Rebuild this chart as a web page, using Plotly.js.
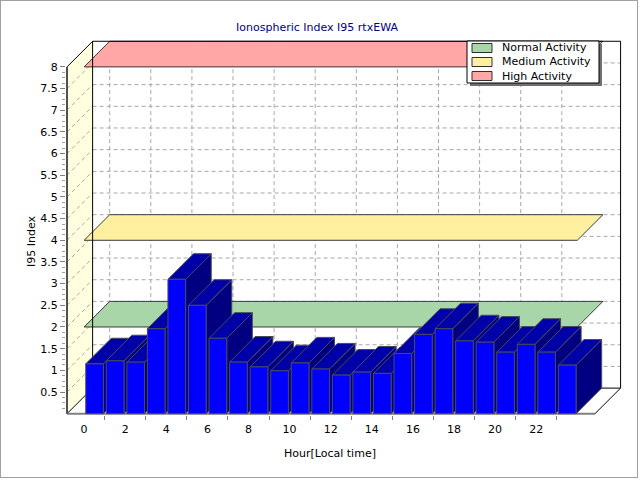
<!DOCTYPE html>
<html>
<head>
<meta charset="utf-8">
<script src="https://cdn.plot.ly/plotly-3.0.1.min.js"></script>
<style>
body { margin: 0; background: #fff; }
#plot { position: absolute; left: 0; top: 0; width: 640px; height: 480px; }
#frame { position: absolute; left: 0; top: 0; width: 636px; height: 476px; border: 1px solid #a0a0a0; pointer-events: none; }
</style>
</head>
<body>
<div id="plot"></div>
<div id="frame"></div>
<script>
// values
const hours = [0, 1, 2, 3, 4, 5, 6, 7, 8, 9, 10, 11, 12, 13, 14, 15, 16, 17, 18, 19, 20, 21, 22, 23];
const i95 = [1.15, 1.22, 1.19, 1.96, 3.10, 2.50, 1.74, 1.19, 1.08, 0.99, 1.17, 1.03,
             0.89, 0.96, 0.93, 1.39, 1.83, 1.96, 1.68, 1.65, 1.42, 1.60, 1.42, 1.12];
const xTickVals = [0, 2, 4, 6, 8, 10, 12, 14, 16, 18, 20, 22];
const yTickVals = [0.5, 1, 1.5, 2, 2.5, 3, 3.5, 4, 4.5, 5, 5.5, 6, 6.5, 7, 7.5, 8];

// activity levels (bands + legend)
const levelNames = ['Normal Activity', 'Medium Activity', 'High Activity'];
const levelValues = [2, 4, 8];
const levelColors = ['#a9d6a9', '#fff0a0', '#ffa6a6'];

const FONT = 'DejaVu Sans, Verdana, sans-serif';
const W = 640, H = 480;
const M = {l: 66, r: 18, t: 40, b: 65};
const plotW = W - M.l - M.r;
const plotH = H - M.t - M.b;
const xRange = [-0.881, 26.175];
const yRange = [-0.03, 8.62];
// depth of the fake 3d box, in axis units
const dx = 1.246, dy = 0.5905;
const xL = -0.832, xR = 24.86, yTop = 8;
const barL = 0.08, barR = 0.94;

const px2x = p => (p - M.l) / plotW;
const py2y = p => (M.t + plotH - p) / plotH;

function poly(xs, ys, fill, lineColor, lineWidth) {
    return {
        type: 'scatter', mode: 'lines',
        x: xs.concat([xs[0]]), y: ys.concat([ys[0]]),
        fill: 'toself', fillcolor: fill,
        line: {color: lineColor, width: lineWidth},
        hoverinfo: 'skip', showlegend: false
    };
}

const data = [];

// horizontal activity bands
levelValues.forEach((v, i) => {
    const t = poly([0, 24, 24 + dx, dx], [v, v, v + dy, v + dy], levelColors[i], '#3a3a3a', 1);
    t.name = levelNames[i];
    data.push(t);
});

// back wall left + top edge (over the bands, under the bars)
data.push({
    type: 'scatter', mode: 'lines',
    x: [xL + dx, xL + dx, xR + dx], y: [dy, yTop + dy, yTop + dy],
    line: {color: '#000', width: 1}, hoverinfo: 'skip', showlegend: false
});

// bars, drawn left to right so each one hides the previous side face
hours.forEach((h, i) => {
    const v = i95[i];
    const x0 = h + barL, x1 = h + barR;
    data.push(poly([x1, x1 + dx, x1 + dx, x1], [0, dy, v + dy, v], '#000080', '#4a4a5a', 1));
    data.push(poly([x0, x1, x1 + dx, x0 + dx], [v, v, v + dy, v + dy], '#0000a8', '#4a4a5a', 1));
    data.push(poly([x0, x1, x1, x0], [0, 0, v, v], '#0000ff', '#4a4a5a', 1));
});

const shapes = [];
const grid = {color: '#a8a8a8', width: 1, dash: '4px,3px'};

// left wall and floor
shapes.push({type: 'path', layer: 'below', xref: 'x', yref: 'y',
    path: `M${xL},0 L${xL + dx},${dy} L${xL + dx},${yTop + dy} L${xL},${yTop} Z`,
    fillcolor: '#ffffe0', line: {width: 0}});
shapes.push({type: 'path', layer: 'below', xref: 'x', yref: 'y',
    path: `M${xL},0 L${xR},0 L${xR + dx},${dy} L${xL + dx},${dy} Z`,
    fillcolor: '#ffffff', line: {width: 0}});

// back wall and left wall grid
yTickVals.filter(v => v < yTop).forEach(v => {
    shapes.push({type: 'line', layer: 'below', xref: 'x', yref: 'y',
        x0: xL + dx, x1: xR + dx, y0: v + dy, y1: v + dy, line: grid});
    shapes.push({type: 'line', layer: 'below', xref: 'x', yref: 'y',
        x0: xL, x1: xL + dx, y0: v, y1: v + dy, line: grid});
});
xTickVals.forEach(h => {
    shapes.push({type: 'line', layer: 'below', xref: 'x', yref: 'y',
        x0: h + dx, x1: h + dx, y0: dy, y1: yTop + dy, line: grid});
});

// box edges
const edge = (x0, y0, x1, y1, color, width) => shapes.push({type: 'line', layer: 'below',
    xref: 'x', yref: 'y', x0, y0, x1, y1, line: {color, width}});
edge(xL + dx, dy, xR + dx, dy, '#000', 1);
edge(xR + dx, dy, xR + dx, yTop + dy, '#000', 1);
edge(xL, yTop, xL + dx, yTop + dy, '#000', 1);
edge(xL, 0, xL + dx, dy, '#000', 1);
edge(xR, 0, xR + dx, dy, '#000', 1);
edge(xL, 0, xR, 0, '#808080', 2);
edge(xL, 0, xL, yTop, '#505050', 2);

// legend box
const annotations = [];
const lgX0 = 467, lgX1 = 599, lgY0 = 41, lgY1 = 83;
shapes.push({type: 'rect', layer: 'above', xref: 'paper', yref: 'paper',
    x0: px2x(lgX0 + 3), x1: px2x(lgX1 + 3), y0: py2y(lgY1 + 3), y1: py2y(lgY0 + 3),
    fillcolor: '#707070', line: {width: 0}});
shapes.push({type: 'rect', layer: 'above', xref: 'paper', yref: 'paper',
    x0: px2x(lgX0), x1: px2x(lgX1), y0: py2y(lgY1), y1: py2y(lgY0),
    fillcolor: '#ffffff', line: {color: '#000', width: 1}});
levelNames.forEach((name, i) => {
    const cy = 48 + i * 14;
    shapes.push({type: 'rect', layer: 'above', xref: 'paper', yref: 'paper',
        x0: px2x(472), x1: px2x(492), y0: py2y(cy + 4.5), y1: py2y(cy - 4.5),
        fillcolor: levelColors[i], line: {color: '#303030', width: 1}});
    annotations.push({xref: 'paper', yref: 'paper', x: px2x(500), y: py2y(cy),
        xanchor: 'left', yanchor: 'middle', showarrow: false, text: name,
        font: {family: FONT, size: 11, color: '#000'}});
});

// axis titles
annotations.push({xref: 'paper', yref: 'paper', x: px2x(31), y: py2y(241), textangle: -90,
    xanchor: 'center', yanchor: 'middle',
    showarrow: false, text: 'I95 Index', font: {family: FONT, size: 11, color: '#000'}});
annotations.push({xref: 'paper', yref: 'paper', x: px2x(330), y: py2y(453),
    xanchor: 'center', yanchor: 'middle',
    showarrow: false, text: 'Hour[Local time]', font: {family: FONT, size: 11, color: '#000'}});

const yMinor = [];
for (let k = 1; k < 64; k++) if (k % 4) yMinor.push(k / 8);

const layout = {
    width: W, height: H,
    margin: M,
    paper_bgcolor: '#fff', plot_bgcolor: '#fff',
    showlegend: false,
    title: {text: 'Ionospheric Index I95 rtxEWA', xref: 'container', yref: 'container',
        x: 317 / W, y: 1 - 27 / H, xanchor: 'center', yanchor: 'middle',
        font: {family: FONT, size: 11, color: '#000080'}},
    xaxis: {range: xRange, showgrid: false, zeroline: false, showline: false,
        tickmode: 'array', tickvals: xTickVals, ticks: 'outside', ticklen: 4,
        tickcolor: 'rgba(0,0,0,0)', tickfont: {family: FONT, size: 11, color: '#000'},
        minor: {tickmode: 'array', tickvals: hours.filter(h => h % 2 === 1),
            ticks: 'outside', ticklen: 4, tickcolor: '#808080', showgrid: false}},
    yaxis: {range: yRange, showgrid: false, zeroline: false, showline: false,
        tickmode: 'array', tickvals: yTickVals, ticks: 'outside', ticklen: 5,
        tickcolor: '#808080', tickfont: {family: FONT, size: 11, color: '#000'},
        minor: {tickmode: 'array', tickvals: yMinor, ticks: 'outside', ticklen: 3,
            tickcolor: '#a0a0a0', showgrid: false}},
    shapes: shapes,
    annotations: annotations,
    hovermode: false
};

Plotly.newPlot('plot', data, layout, {staticPlot: true, displayModeBar: false});
</script>
</body>
</html>
